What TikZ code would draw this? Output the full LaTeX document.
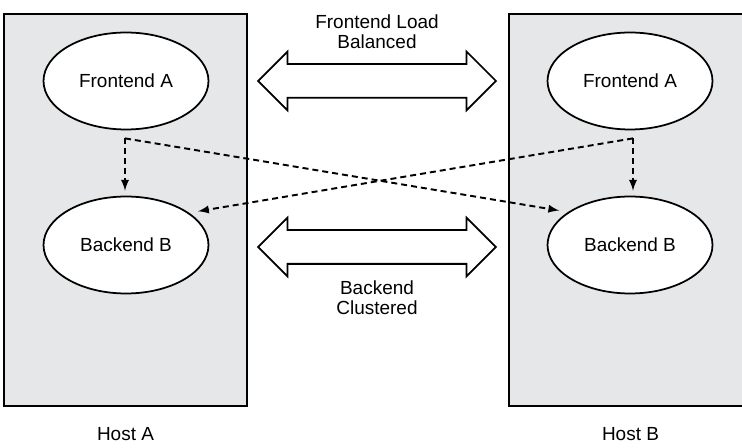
\documentclass[tikz,border=0pt]{standalone}
\usepackage{fontspec}
\setmainfont{Liberation Sans}
\usetikzlibrary{shapes.geometric, shapes.arrows, arrows, positioning}

\definecolor{hostgray}{RGB}{230,231,232}

\begin{document}
\begin{tikzpicture}[x=0.02cm, y=-0.02cm,
  font=\fontsize{10.8}{11.4}\selectfont,
  host/.style={draw, line width=1.2pt, fill=hostgray, minimum width=4.86cm, minimum height=7.84cm},
  proc/.style={ellipse, draw, line width=1pt, fill=white, minimum width=3.3cm, minimum height=1.94cm},
  link/.style={double arrow, draw, line width=1pt, fill=white, inner xsep=0pt, inner ysep=0.32cm,
    minimum height=4.76cm, double arrow head extend=0.25cm},
  call/.style={-latex, line width=1.1pt, dash pattern=on 0.12cm off 0.08cm}]

  \clip (0,0) rectangle (742,448);

  % the two hosts
  \node[host] (hostA) at (125.5,210) {};
  \node[host] (hostB) at (630.5,210) {};
  \node[below=0.28cm of hostA] (hostAlbl) {Host A};
  \node[below=0.28cm of hostB] (hostBlbl) {Host B};

  \node[proc] (feA) at (126,81) {Frontend A};
  \node[proc] (beA) at (126,245) {Backend B};
  \node[proc] (feB) at (630,81) {Frontend A};
  \node[proc] (beB) at (630,245) {Backend B};

  % load balancing / clustering
  \node[link] (lbArrow) at (377,81) {};
  \node[link] (clArrow) at (377,247) {};
  \node[align=center] (lbLbl) at (377,32) {Frontend Load\\Balanced};
  \node[align=center] (clLbl) at (377,298) {Backend\\Clustered};

  % calls from frontends to backends
  \coordinate (feAout) at ([xshift=-0.02cm, yshift=-0.16cm]feA.south);
  \coordinate (feBout) at ([xshift=0.06cm, yshift=-0.16cm]feB.south);
  \draw[call, shorten >=0.1cm] (feAout) -- (feAout |- beA.north);
  \draw[call, shorten >=0.1cm] (feBout) -- (feBout |- beB.north);
  \draw[call, shorten >=0.18cm] (feAout) -- (beB.152);
  \draw[call, shorten >=0.18cm] (feBout) -- (beA.27);
\end{tikzpicture}
\end{document}
